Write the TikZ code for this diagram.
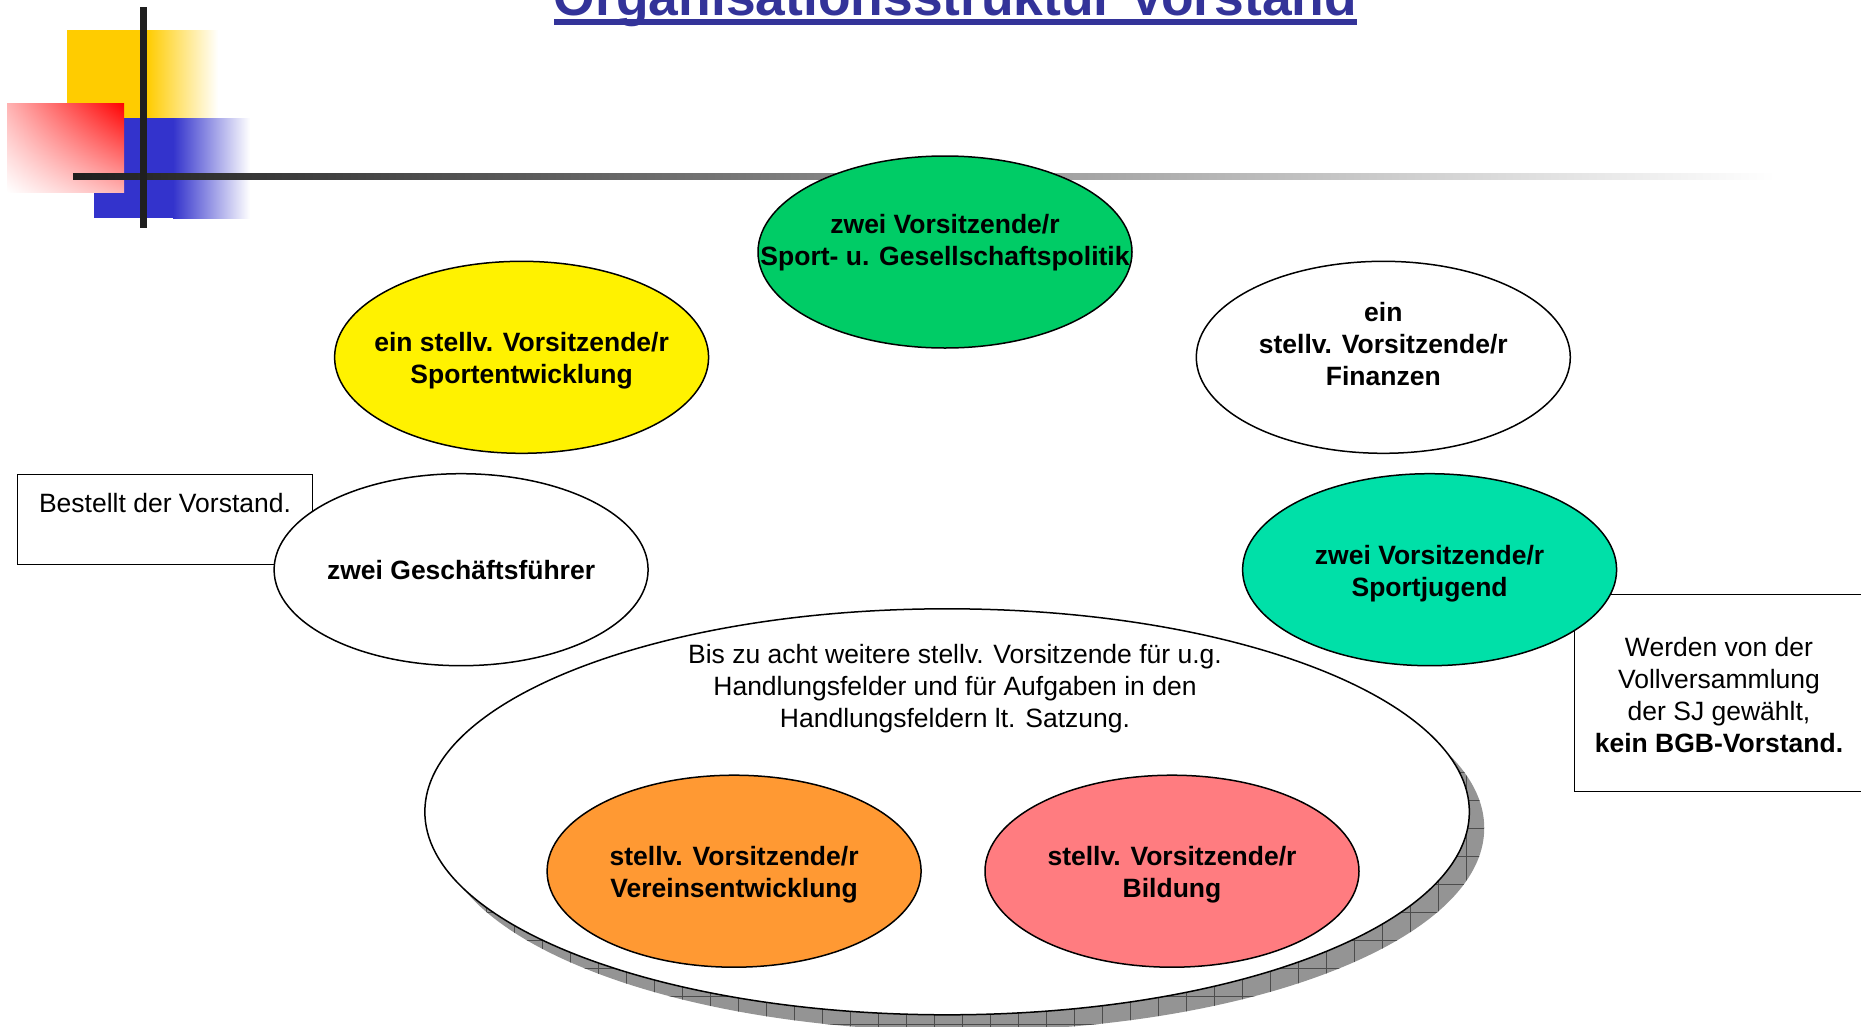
\documentclass[tikz,border=0pt]{standalone}
\usepackage{fontspec}
\setmainfont{Liberation Sans}
\usetikzlibrary{shapes.geometric,shadings}

\definecolor{titleblue}{HTML}{333399}
\definecolor{decoyellow}{HTML}{FFCC00}
\definecolor{decoblue}{HTML}{3333CC}
\definecolor{decobar}{HTML}{1F1F1F}
\definecolor{vorsgreen}{HTML}{00CC66}
\definecolor{sjgreen}{HTML}{00E0A8}
\definecolor{veorange}{HTML}{FF9933}
\definecolor{bildpink}{HTML}{FF7C80}

\begin{document}
\begin{tikzpicture}[x=1pt,y=-1pt,
  oval/.style={ellipse, draw=black, line width=1.5pt, minimum width=374pt, minimum height=192pt, inner sep=0pt},
  ovaltext/.style={align=center, inner sep=0pt, yshift=-3.5pt, font=\fontsize{26.5pt}{32pt}\selectfont\bfseries},
  infobox/.style={rectangle, draw=black, line width=1pt, inner sep=0pt, align=center,
    font=\fontsize{26.5pt}{32pt}\selectfont}]

\useasboundingbox (0,0) rectangle (1861,1026);

% Deko oben links
\fill[decoyellow] (67,30) rectangle (148,118);
\shade[left color=decoyellow, right color=white] (147,30) rectangle (218,118);
\fill[decoblue] (94,118) rectangle (174,218);
\shade[left color=decoblue, right color=white] (173,118) rectangle (250,218);
\shade[upper left=red!30, upper right=red, lower left=white, lower right=red!30] (7,103) rectangle (124,192);
\shade[left color=decobar, right color=white] (73,173) rectangle (1775,179);
\fill[decobar] (140,7) rectangle (147,228);

\node[anchor=base, inner sep=0pt, text=titleblue, font=\fontsize{53.4pt}{60pt}\selectfont\bfseries] (title) at (955.5,15) {Organisationsstruktur Vorstand};
\fill[titleblue] ([yshift=-4pt]title.base west) rectangle ([yshift=-9.5pt]title.base east);

\node[infobox, minimum width=295pt, minimum height=90pt] (bestellt) at (165,519) {Bestellt der Vorstand.\\ \mbox{}};
\node[infobox, minimum width=290pt, minimum height=197pt] (sjnote) at (1719,692.5) {};
\node[align=center, font=\fontsize{26.5pt}{32pt}\selectfont] (sjnoteText) at (1719,695) {Werden von der\\Vollversammlung\\der SJ gewählt,\\\textbf{kein BGB-Vorstand.}};

\node[oval, fill=vorsgreen] (vorsitz) at (945,252) {};
\node[ovaltext] (vorsitzText) at (vorsitz) {zwei Vorsitzende/r\\Sport- u. Gesellschaftspolitik\\ \mbox{}};
\node[oval, fill=yellow] (sportentw) at (521.6,357.3) {};
\node[ovaltext] (sportentwText) at (sportentw) {ein stellv. Vorsitzende/r\\Sportentwicklung};
\node[oval, fill=white] (finanzen) at (1383.3,357.3) {};
\node[ovaltext, yshift=1pt] (finanzenText) at (finanzen) {ein\\stellv. Vorsitzende/r\\Finanzen\\ \mbox{}};
\node[oval, fill=white] (gf) at (461.1,569.7) {};
\node[ovaltext, yshift=3.5pt] (gfText) at (gf) {zwei Geschäftsführer};
\node[oval, fill=sjgreen] (sportjugend) at (1429.6,569.7) {};
\node[ovaltext] (sportjugendText) at (sportjugend) {zwei Vorsitzende/r\\Sportjugend};

% grosses Oval mit Schatten
\node[ellipse, minimum width=1044.5pt, minimum height=406pt, inner sep=0pt, fill=black!42,
  path picture={\draw[black!70, line width=0.6pt, step=28pt] (path picture bounding box.south west) grid (path picture bounding box.north east);}] (weitereShadow) at (962,828) {};
\node[ellipse, draw=black, line width=1.5pt, fill=white, minimum width=1044.5pt, minimum height=406pt, inner sep=0pt] (weitere) at (947.1,811.8) {};
\node[align=center, font=\fontsize{26.5pt}{32pt}\selectfont] (weitereText) at (955,688.5) {Bis zu acht weitere stellv. Vorsitzende für u.g.\\Handlungsfelder und für Aufgaben in den\\Handlungsfeldern lt. Satzung.};

\node[oval, fill=veorange] (vereinsentw) at (734.1,871.2) {};
\node[ovaltext] (vereinsentwText) at (vereinsentw) {stellv. Vorsitzende/r\\Vereinsentwicklung};
\node[oval, fill=bildpink] (bildung) at (1172,871.2) {};
\node[ovaltext] (bildungText) at (bildung) {stellv. Vorsitzende/r\\Bildung};

\end{tikzpicture}
\end{document}
